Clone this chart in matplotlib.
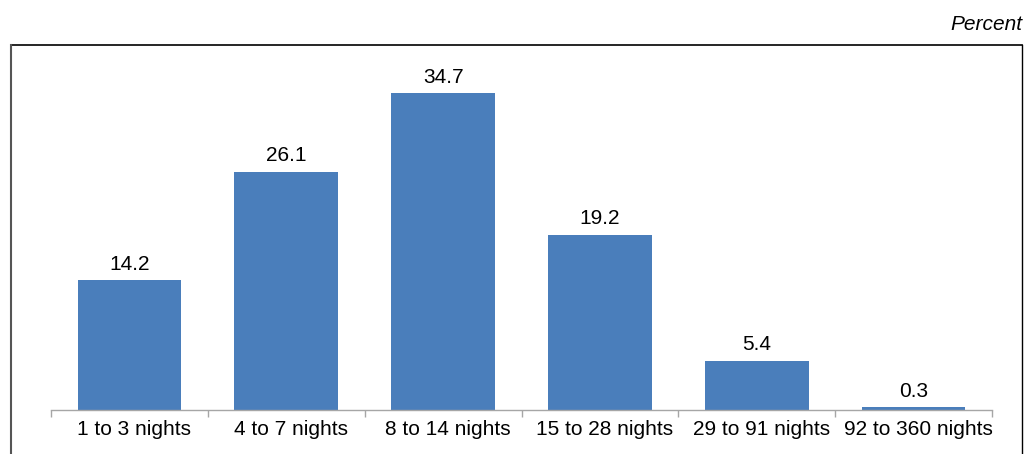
import matplotlib.pyplot as plt
import matplotlib.transforms as mtransforms
from matplotlib.lines import Line2D

categories = ['1 to 3 nights', '4 to 7 nights', '8 to 14 nights',
              '15 to 28 nights', '29 to 91 nights', '92 to 360 nights']
values = [14.2, 26.1, 34.7, 19.2, 5.4, 0.3]

plt.rcParams['font.family'] = ['Liberation Sans', 'DejaVu Sans']

W, H = 1025, 454
fig = plt.figure(figsize=(W / 100, H / 100), dpi=100)
ax = fig.add_axes([51 / W, 44 / H, (992 - 51) / W, (410 - 45) / H])

x = range(len(categories))
bars = ax.bar(x, values, width=0.66, color='#4a7ebb', zorder=2)
for xi, v in zip(x, values):
    ax.text(xi, v + 0.7, f'{v:.1f}', ha='center', va='bottom', fontsize=15)

ax.set_xlim(-0.5, len(categories) - 0.5)
ax.set_ylim(0, 40)
ax.set_yticks([])
ax.set_xticks([i - 0.5 for i in range(len(categories) + 1)], minor=False)
ax.set_xticklabels([])
ax.set_xticks(list(x), minor=True)
ax.set_xticklabels(categories, minor=True, fontsize=15)
ax.tick_params(axis='x', which='major', length=5, color='#a6a6a6', width=1)
ax.tick_params(axis='x', which='minor', length=0, pad=7)
# labels sit a few pixels right of the bar centres in the original
shift = mtransforms.ScaledTranslation(5 / 100, 0, fig.dpi_scale_trans)
for lbl in ax.get_xticklabels(minor=True):
    lbl.set_transform(lbl.get_transform() + shift)
for s in ['top', 'right', 'left']:
    ax.spines[s].set_visible(False)
ax.spines['bottom'].set_color('#a6a6a6')
ax.spines['bottom'].set_linewidth(1)

# outer frame
fx0, fx1 = 11 / W, 1022 / W
fy_top = 1 - 45 / H
fig.add_artist(Line2D([fx0, fx1], [fy_top, fy_top], color='black', lw=1.2))
fig.add_artist(Line2D([fx0, fx0], [fy_top, 0], color='#555555', lw=1.5))
fig.add_artist(Line2D([fx1, fx1], [fy_top, 0], color='black', lw=1.0))

fig.text(1022 / W, 1 - 24 / H, 'Percent', ha='right', va='center',
         fontsize=15, style='italic')

fig.savefig('out.png', dpi=100)
